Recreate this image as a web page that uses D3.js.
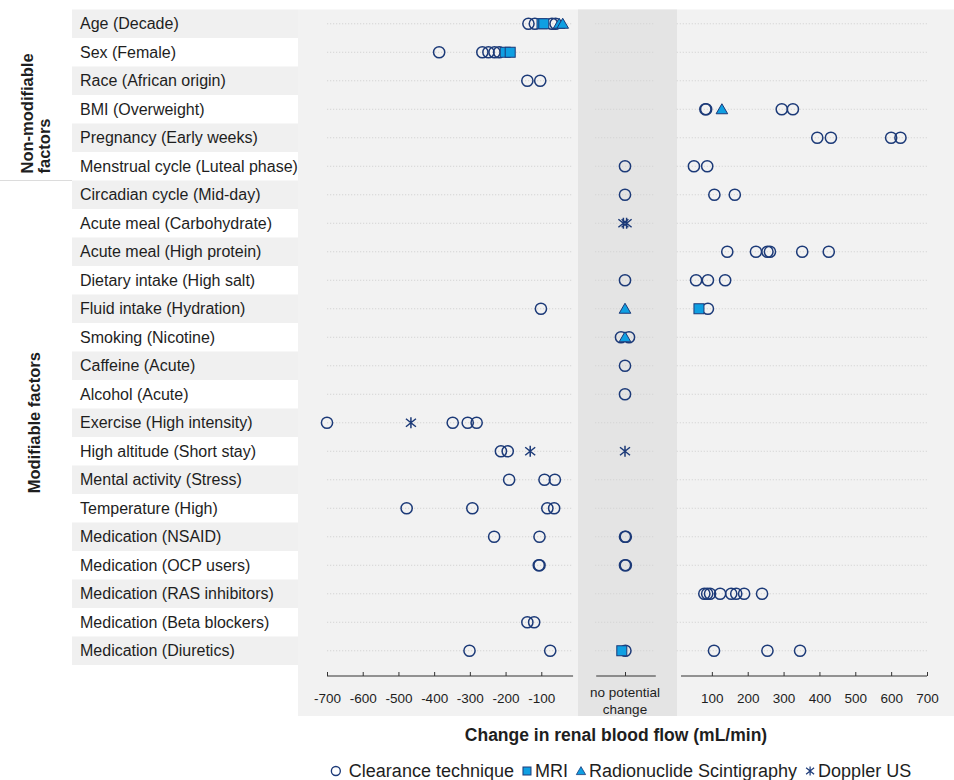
<!DOCTYPE html>
<html><head><meta charset="utf-8">
<script src="https://cdn.jsdelivr.net/npm/d3@7"></script>
<style>
body{margin:0;background:#fff;}
svg{display:block;font-family:"Liberation Sans",Arial,Helvetica,sans-serif;}
</style>
</head><body>
<svg id="chart" width="954" height="780"></svg>
<script>
// ---------------- DATA ----------------
const factors = [
  "Age (Decade)", "Sex (Female)", "Race (African origin)", "BMI (Overweight)",
  "Pregnancy (Early weeks)", "Menstrual cycle (Luteal phase)", "Circadian cycle (Mid-day)",
  "Acute meal (Carbohydrate)", "Acute meal (High protein)", "Dietary intake (High salt)",
  "Fluid intake (Hydration)", "Smoking (Nicotine)", "Caffeine (Acute)", "Alcohol (Acute)",
  "Exercise (High intensity)", "High altitude (Short stay)", "Mental activity (Stress)",
  "Temperature (High)", "Medication (NSAID)", "Medication (OCP users)",
  "Medication (RAS inhibitors)", "Medication (Beta blockers)", "Medication (Diuretics)"
];
const groupNonModifiable = ["Non-modifiable", "factors"];
const groupModifiable = ["Modifiable factors"];
const lastNonModifiable = "Menstrual cycle (Luteal phase)";

const negTicks = [-700, -600, -500, -400, -300, -200, -100];
const posTicks = [100, 200, 300, 400, 500, 600, 700];
const middleLabel = ["no potential", "change"];
const axisTitle = "Change in renal blood flow (mL/min)";

// values with |v| < 1 fall in the "no potential change" band (small spread only)
const clearanceValues = [
  [-136, -118, -70, -60],                 // Age
  [-386, -265, -248, -231, -218],         // Sex
  [-139, -103],                           // Race
  [82, 84, 295, 326],                     // BMI
  [394, 432, 600, 626],                   // Pregnancy
  [0, 50, 87],                            // Menstrual
  [0, 107, 164],                          // Circadian
  [],                                     // Acute meal carb
  [143, 223, 255, 262, 352, 426],         // High protein
  [0, 56, 89, 137],                       // High salt
  [-101, 89],                             // Hydration
  [-0.5, 0.5],                            // Smoking
  [0],                                    // Caffeine
  [0],                                    // Alcohol
  [-700, -348, -306, -281],               // Exercise
  [-213, -194],                           // High altitude
  [-190, -91, -62],                       // Mental
  [-477, -293, -83, -64],                 // Temperature
  [-232, -105, 0, 0.1],                   // NSAID
  [-107, -105, 0, 0.1],                   // OCP
  [79, 87, 95, 123, 154, 168, 190, 240],  // RAS inhibitors
  [-139, -120],                           // Beta blockers
  [-301, -75, 0.05, 106, 255, 346]        // Diuretics
];
const mriValues = {
  "Age (Decade)": [-98, -93],
  "Sex (Female)": [-201, -187],
  "Fluid intake (Hydration)": [64],
  "Medication (Diuretics)": [-0.4]
};
const radionuclideValues = {
  "Age (Decade)": [-50, -40],
  "BMI (Overweight)": [128],
  "Fluid intake (Hydration)": [0],
  "Smoking (Nicotine)": [0]
};
const dopplerValues = {
  "Acute meal (Carbohydrate)": [-0.2, 0.2],
  "Exercise (High intensity)": [-465],
  "High altitude (Short stay)": [-131, 0]
};
const legendItems = [
  {type: "circle", label: "Clearance technique"},
  {type: "square", label: "MRI"},
  {type: "triangle", label: "Radionuclide Scintigraphy"},
  {type: "asterisk", label: "Doppler US"}
];

// ---------------- STYLE ----------------
const NAVY = "#1c3a78";
const BLUE = "#0f9fe2";
const TEXT = "#1e1e1e";

const svg = d3.select("#chart");
const W = 954;

// scales
const y = d3.scaleBand().domain(factors).range([9.5, 665]);
const yc = f => y(f) + y.bandwidth() / 2;
const xNeg = d3.scaleLinear().domain([-700, 0]).range([327, 577]);
const xPosS = d3.scaleLinear().domain([0, 700]).range([676, 927]);
const xMid = d3.scaleLinear().domain([-1, 1]).range([617, 633]);
const xOf = v => Math.abs(v) < 1 ? xMid(v) : (v < 0 ? xNeg(v) : xPosS(v));

const plotLeft = 298, plotBottom = 716;
const bandL = 578, bandR = 677;

// backgrounds
svg.append("rect").attr("x", plotLeft).attr("y", y.range()[0]).attr("width", W - plotLeft)
  .attr("height", plotBottom - y.range()[0]).attr("fill", "#f2f2f2");
svg.append("rect").attr("x", bandL).attr("y", y.range()[0]).attr("width", bandR - bandL)
  .attr("height", plotBottom - y.range()[0]).attr("fill", "#e4e4e4");

// label bands
svg.append("g").selectAll("rect").data(factors).join("rect")
  .attr("x", 72).attr("y", d => y(d)).attr("width", plotLeft - 72).attr("height", y.step())
  .attr("fill", (d, i) => i % 2 === 0 ? "#f0f0f0" : "#ffffff");

// row labels
svg.append("g").selectAll("text").data(factors).join("text")
  .attr("x", 80).attr("y", d => yc(d)).attr("dy", "0.35em")
  .attr("font-size", 16).attr("fill", TEXT).text(d => d);

// group separator
const sepY = y(lastNonModifiable) + y.step();
svg.append("line").attr("x1", 0).attr("x2", 72).attr("y1", sepY).attr("y2", sepY)
  .attr("stroke", "#dcdcdc").attr("stroke-width", 1);

// group labels
groupNonModifiable.forEach((t, i) => {
  svg.append("text").attr("transform", `translate(${33 + i * 17},${sepY - 7}) rotate(-90)`)
    .attr("font-size", 16.5).attr("font-weight", "bold").attr("fill", TEXT).text(t);
});
svg.append("text")
  .attr("transform", `translate(40,${(sepY + y.range()[1]) / 2}) rotate(-90)`)
  .attr("text-anchor", "middle").attr("font-size", 16.5).attr("font-weight", "bold")
  .attr("fill", TEXT).text(groupModifiable[0]);

// gridlines (dotted) in three segments
const segs = [[xNeg(-700), xNeg(-12)], [xMid(-3.75), xMid(3.75)], [xPosS(2), xPosS(700)]];
const grid = svg.append("g");
factors.forEach(f => {
  segs.forEach(s => {
    grid.append("line").attr("x1", s[0]).attr("x2", s[1]).attr("y1", yc(f)).attr("y2", yc(f))
      .attr("stroke", "#d4d4d4").attr("stroke-width", 1).attr("stroke-dasharray", "1.2,1.8");
  });
});

// axes
const axisY = 676;
const plainFmt = d => String(d);
function styleAxis(g, x0, x1) {
  g.select(".domain").attr("d", `M${x0},0H${x1}`).attr("stroke", "#333");
  g.selectAll(".tick line").attr("stroke", "#333");
  g.selectAll(".tick text").attr("fill", TEXT).attr("font-size", 13.5)
    .attr("font-family", "Liberation Sans, Arial, sans-serif");
}
const gNeg = svg.append("g").attr("transform", `translate(0,${axisY})`)
  .call(d3.axisBottom(xNeg).tickValues(negTicks).tickFormat(plainFmt)
    .tickSizeInner(-4).tickSizeOuter(0).tickPadding(17));
styleAxis(gNeg, xNeg(-700), xNeg(-11));
const gMid = svg.append("g").attr("transform", `translate(0,${axisY})`)
  .call(d3.axisBottom(xMid).tickValues([0]).tickFormat("").tickSizeInner(-4).tickSizeOuter(0));
styleAxis(gMid, xMid(-3.6), xMid(3.85));
const gPos = svg.append("g").attr("transform", `translate(0,${axisY})`)
  .call(d3.axisBottom(xPosS).tickValues(posTicks).tickFormat(plainFmt)
    .tickSizeInner(-4).tickSizeOuter(0).tickPadding(17));
styleAxis(gPos, xPosS(14), xPosS(700));

// middle label
svg.append("text").attr("x", xMid(0)).attr("y", 697).attr("text-anchor", "middle")
  .attr("font-size", 13.5).attr("fill", TEXT).text(middleLabel[0]);
svg.append("text").attr("x", xMid(0)).attr("y", 714).attr("text-anchor", "middle")
  .attr("font-size", 13.5).attr("fill", TEXT).text(middleLabel[1]);

// axis title
svg.append("text").attr("x", 616).attr("y", 741).attr("text-anchor", "middle")
  .attr("font-size", 17.5).attr("font-weight", "bold").attr("fill", TEXT).text(axisTitle);

// ---------------- MARKS ----------------
const asteriskPath = "M0,-5.5V5.5M-5,-4L5,4M-5,4L5,-4";
const trianglePath = "M0,-5.5L5.8,4.5L-5.8,4.5Z";

function drawMark(g, type, cx, cy, scale = 1) {
  if (type === "circle") {
    g.append("circle").attr("cx", cx).attr("cy", cy).attr("r", 5.6 * scale)
      .attr("fill", "none").attr("stroke", NAVY).attr("stroke-width", 1.5 * Math.min(1, scale + 0.1));
  } else if (type === "square") {
    const s = 10 * scale;
    g.append("rect").attr("x", cx - s / 2).attr("y", cy - s / 2).attr("width", s).attr("height", s)
      .attr("fill", BLUE).attr("stroke", NAVY).attr("stroke-width", 1);
  } else if (type === "triangle") {
    g.append("path").attr("d", trianglePath).attr("transform", `translate(${cx},${cy}) scale(${scale})`)
      .attr("fill", BLUE).attr("stroke", NAVY).attr("stroke-width", 1);
  } else {
    g.append("path").attr("d", asteriskPath).attr("transform", `translate(${cx},${cy}) scale(${scale})`)
      .attr("fill", "none").attr("stroke", NAVY).attr("stroke-width", 1.5);
  }
}

const marks = svg.append("g");
clearanceValues.forEach((vals, i) => vals.forEach(v => drawMark(marks, "circle", xOf(v), yc(factors[i]))));
Object.entries(mriValues).forEach(([f, vals]) => vals.forEach(v => drawMark(marks, "square", xOf(v), yc(f))));
Object.entries(radionuclideValues).forEach(([f, vals]) => vals.forEach(v => drawMark(marks, "triangle", xOf(v), yc(f))));
Object.entries(dopplerValues).forEach(([f, vals]) => vals.forEach(v => drawMark(marks, "asterisk", xOf(v), yc(f))));

// ---------------- LEGEND (laid out sequentially from text widths) ----------------
const legendY = 771;
const leg = svg.append("g");
const markToText = [13, 8, 8, 8];   // marker centre -> text start
const textToMark = 13;              // text end -> next marker centre
let cursor = 334;
legendItems.forEach((it, i) => {
  drawMark(leg, it.type, cursor, legendY, 0.8);
  const t = leg.append("text").attr("x", cursor + markToText[i]).attr("y", legendY).attr("dy", "0.36em")
    .attr("font-size", 18).attr("fill", TEXT).text(it.label);
  cursor = cursor + markToText[i] + t.node().getComputedTextLength() + textToMark;
});
const legW = cursor - textToMark - 329;
leg.attr("transform", `translate(${621 - legW / 2 - 329},0)`);
</script>
</body></html>
